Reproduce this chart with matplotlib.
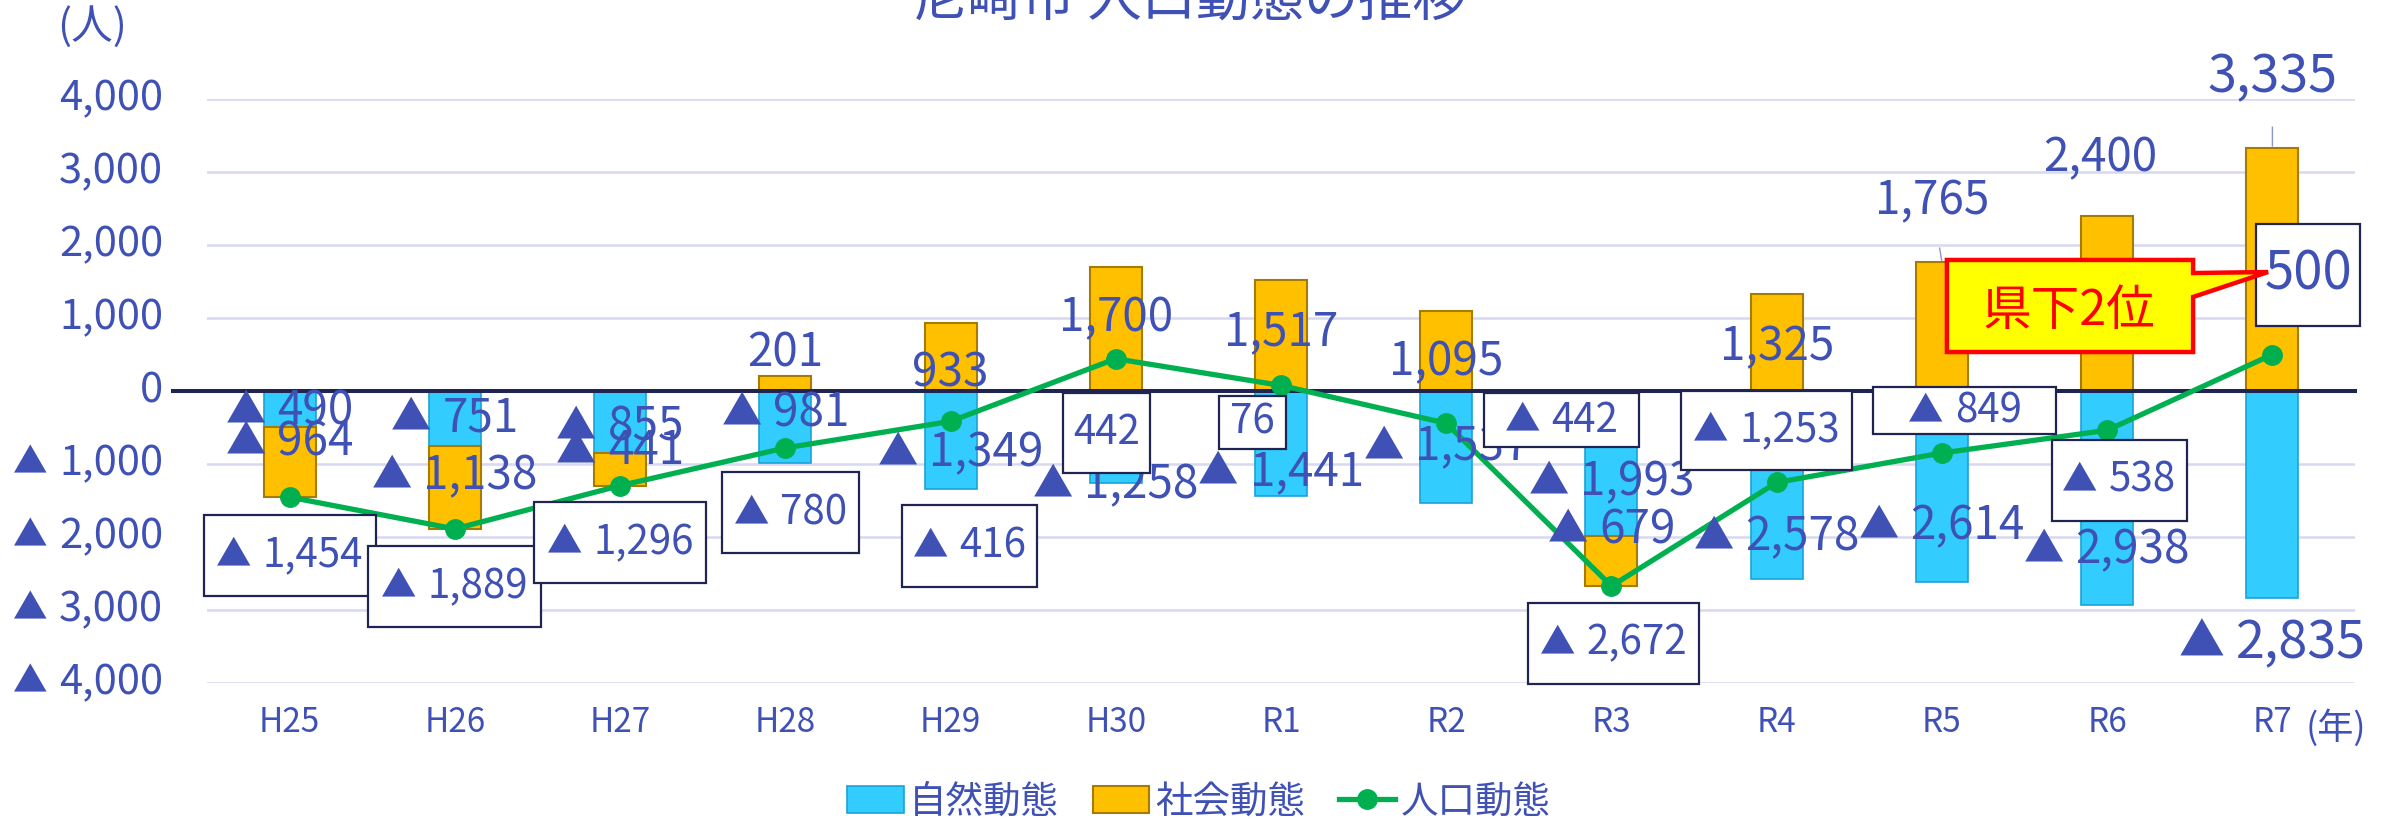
import matplotlib.pyplot as plt
from matplotlib.patches import Patch, Polygon
from matplotlib.lines import Line2D
from matplotlib.offsetbox import TextArea, HPacker, VPacker, DrawingArea, AnnotationBbox
import numpy as np

plt.rcParams['font.family'] = ['Noto Sans CJK JP', 'DejaVu Sans']

# data
years = ['H25', 'H26', 'H27', 'H28', 'H29', 'H30', 'R1', 'R2', 'R3', 'R4', 'R5', 'R6', 'R7']
natural = [-490, -751, -855, -981, -1349, -1258, -1441, -1537, -1993, -2578, -2614, -2938, -2835]
social = [-964, -1138, -441, 201, 933, 1700, 1517, 1095, -679, 1325, 1765, 2400, 3335]
population = [-1454, -1889, -1296, -780, -416, 442, 76, -442, -2672, -1253, -849, -538, 500]
y_ticks = [4000, 3000, 2000, 1000, 0, -1000, -2000, -3000, -4000]

# label offsets in pixels (dx, dy up) from the anchor
nat_dx = [0, 0, 0, 0, 10, 0, 0, 0, 0, 0, 0, 0, 0]
nat_dy = [-2, 0, -5, 14, -13, -48, -28, 0, -18, -52, -40, -52, -149]
soc_dx = [0, 0, 0, 0, 0, 0, 0, 0, 0, 0, -10, -7, 0]
soc_dy = [20, 11, 19, 30, -16, 11, 4, -11, 31, -4, 61, 145, 70]
soc_leader = [False] * 10 + [True, False, True]
pop_dx = [0, 0, 0, 5, 19, -9, -29, 115, 2, -10, 23, 12, 36]
pop_dy = [-58, -58, -57, -65, -125, -74, -37, 3, -57, 52, 42, -50, 80]
# label box sizes (px)
pop_box_w = [172, 173, 172, 137, 135, 87, 67, 155, 171, 171, 183, 135, 104]
pop_box_h = [81, 81, 81, 81, 82, 80, 53, 54, 81, 79, 47, 81, 102]

TXT = '#3F51B5'
NAT, NAT_EDGE = '#33CCFF', '#1AA3D6'
SOC, SOC_EDGE = '#FFC000', '#A67C00'
POP = '#00B050'
AXC = '#1F2550'
GRID = '#D6D9F0'


def num_label(v, size, tri=0.88):
    kids = []
    if v < 0:
        kids.append(TextArea('▲', textprops=dict(size=size * tri, color=TXT)))
    kids.append(TextArea(f'{abs(v):,}', textprops=dict(size=size, color=TXT)))
    return HPacker(children=kids, sep=8, align='center', pad=0)


def boxed(inner, w_px, h_px):
    # force a minimum box size around the label
    row = HPacker(children=[DrawingArea(0, h_px * 0.72), inner], sep=0, align='center', pad=0)
    return VPacker(children=[DrawingArea(w_px * 0.72, 0), row], sep=0, align='center', pad=0)


fig = plt.figure(figsize=(24.05, 8.19), dpi=100)
ax = fig.add_axes([207 / 2405, 1 - 683 / 819, 2148 / 2405, 584 / 819])

x = np.arange(len(years))
soc_bottom = [n if s < 0 else 0 for n, s in zip(natural, social)]
ax.bar(x, natural, width=0.315, color=NAT, edgecolor=NAT_EDGE, lw=1.2, zorder=2)
ax.bar(x, social, width=0.315, bottom=soc_bottom, color=SOC, edgecolor=SOC_EDGE, lw=1.5, zorder=2)
ax.axhline(0, xmin=-34 / 2148, xmax=1, color=AXC, lw=2.9, clip_on=False, zorder=3)
ax.plot(x, population, color=POP, lw=3.8, marker='o', ms=14, zorder=4)

ax.set_xlim(-0.5, len(years) - 0.5)
ax.set_ylim(-4000, 4000)
ax.set_yticks(y_ticks)
ax.set_yticklabels([])
ax.set_xticks(x)
ax.set_xticklabels(years)
ax.tick_params(axis='y', length=0)
ax.tick_params(axis='x', length=0, pad=16, labelsize=24, labelcolor=TXT)
for s in ax.spines.values():
    s.set_visible(False)
ax.set_axisbelow(True)
ax.yaxis.grid(True, color=GRID, lw=1.8)

# y tick labels (with smaller triangle for negatives)
for v in y_ticks:
    ax.add_artist(AnnotationBbox(num_label(v, 30, tri=0.83), (0, v),
                                 xycoords=('axes fraction', 'data'), xybox=(-44, 0),
                                 boxcoords='offset pixels', box_alignment=(1, 0.5),
                                 frameon=False, annotation_clip=False))

last = len(years) - 1
for i in x:
    size = 37.5 if i == last else 33
    ax.add_artist(AnnotationBbox(num_label(natural[i], size), (i, natural[i] / 2),
                                 xybox=(nat_dx[i], nat_dy[i]), boxcoords='offset pixels',
                                 frameon=False, annotation_clip=False, zorder=5))
    anchor = social[i] if soc_leader[i] else soc_bottom[i] + social[i] / 2
    arrow = dict(arrowstyle='-', color='#8C96D0', lw=1, shrinkA=12, shrinkB=1) if soc_leader[i] else None
    ax.add_artist(AnnotationBbox(num_label(social[i], size), (i, anchor),
                                 xybox=(soc_dx[i], soc_dy[i]), boxcoords='offset pixels',
                                 frameon=False, annotation_clip=False, zorder=5,
                                 arrowprops=arrow))
    psize = 38 if i == last else 29
    ax.add_artist(AnnotationBbox(boxed(num_label(population[i], psize), pop_box_w[i], pop_box_h[i]),
                                 (i, population[i]),
                                 xybox=(pop_dx[i], pop_dy[i]), boxcoords='offset pixels',
                                 frameon=True, pad=0, annotation_clip=False, zorder=5,
                                 bboxprops=dict(boxstyle='square,pad=0', fc='white',
                                                ec=AXC, lw=1.6)))

# callout
c = last
pts = [(c - 1.97, 1795), (c - 0.48, 1795), (c - 0.48, 1616), (c - 0.026, 1630),
       (c - 0.48, 1288), (c - 0.48, 534), (c - 1.97, 534)]
ax.add_patch(Polygon(pts, closed=True, fc='#FFFF00', ec='#FF0000', lw=3.2,
                     joinstyle='miter', zorder=6, clip_on=False))
ax.text(c - 1.23, 1096, '県下2位', ha='center', va='center', fontsize=35,
        color='#FF0000', zorder=7)

fig.text(1190 / 2405, 1 - 16 / 819, '尼崎市 人口動態の推移', ha='center', va='baseline',
         fontsize=39, color=TXT)
fig.text(92 / 2405, 1 - 27 / 819, '(人)', ha='center', va='center', fontsize=30, color=TXT)
fig.text(2336 / 2405, 1 - 728 / 819, '(年)', ha='center', va='center', fontsize=26, color=TXT)

handles = [Patch(fc=NAT, ec=NAT_EDGE, lw=1.2),
           Patch(fc=SOC, ec=SOC_EDGE, lw=1.5),
           Line2D([0], [0], color=POP, lw=3.8, marker='o', ms=14)]
fig.legend(handles, ['自然動態', '社会動態', '人口動態'], loc='center',
           bbox_to_anchor=(0.4985, 1 - 802 / 819), ncol=3, frameon=False,
           fontsize=27, labelcolor=TXT, handlelength=1.5, handleheight=0.7,
           handletextpad=0.15, columnspacing=0.9)

fig.savefig('out.png', dpi=100)
